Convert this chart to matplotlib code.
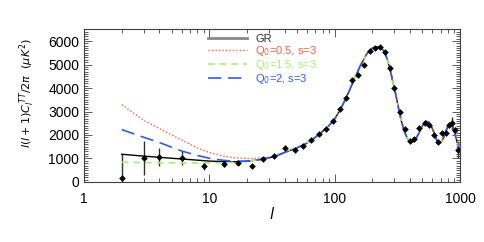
import matplotlib
matplotlib.use('Agg')
import matplotlib.pyplot as plt
from matplotlib.lines import Line2D
from matplotlib.ticker import MultipleLocator

plt.rcParams['font.family'] = ['Liberation Sans', 'DejaVu Sans']
plt.rcParams['mathtext.fontset'] = 'dejavusans'

# binned data points (l, value, symmetric error)
data_l = [2, 3, 4, 6, 9, 13, 17, 22, 27, 33, 40, 48, 56, 65, 75, 86, 97, 111, 123,
          138, 153, 170, 190, 208, 228, 250, 274, 300, 330, 362, 396, 426, 470, 524,
          565, 620, 670, 720, 770, 818, 870, 905, 960]
data_v = [180, 1020, 1075, 1020, 680, 750, 795, 680, 980, 1120, 1435, 1360, 1530, 1790,
          2040, 2260, 2600, 3100, 3560, 4340, 4550, 5000, 5570, 5690, 5730, 5520, 4840,
          3990, 2990, 2240, 1760, 1830, 2280, 2500, 2430, 2000, 1715, 2070, 2100, 2430,
          2500, 2210, 1360]
data_err = [1000, 720, 390, 300, 170, 110, 90, 80, 70, 60, 60, 50, 50, 50, 50, 50, 50,
            50, 50, 50, 50, 50, 50, 50, 50, 50, 50, 50, 50, 50, 50, 50, 60, 60, 60,
            70, 80, 90, 100, 120, 270, 150, 350]

# model curves
gr_l = [2, 3, 4, 5, 6, 8, 10, 13, 16, 20, 25, 30, 35, 40, 50, 60, 70, 80, 90, 100, 110,
        120, 130, 140, 150, 160, 170, 180, 190, 200, 215, 230, 245, 260, 275, 290, 305,
        320, 340, 360, 380, 400, 420, 440, 470, 500, 530, 560, 590, 620, 650, 680, 710,
        740, 770, 800, 830, 860, 890, 920, 960, 1000]
gr_v = [1180, 1100, 1050, 1010, 980, 930, 890, 865, 860, 880, 950, 1030, 1130, 1260,
        1450, 1650, 1900, 2150, 2400, 2680, 3050, 3450, 3850, 4250, 4600, 4950, 5200,
        5450, 5600, 5700, 5760, 5740, 5600, 5300, 4850, 4300, 3800, 3250, 2600, 2150,
        1850, 1700, 1710, 1800, 2080, 2380, 2580, 2560, 2380, 2100, 1800, 1660, 1700,
        1900, 2150, 2380, 2500, 2450, 2250, 1950, 1600, 1300]

low_l = [2, 3, 4, 5, 6, 8, 10, 13, 16, 20, 25, 30, 35, 40]
q05_v = [3290, 2620, 2270, 2000, 1790, 1450, 1250, 1100, 1030, 1000, 1010, 1060, 1150, 1280]
q15_v = [840, 830, 820, 815, 810, 810, 810, 820, 840, 880, 950, 1030, 1130, 1260]
q2_v = [2230, 1900, 1680, 1480, 1320, 1130, 1010, 920, 880, 890, 950, 1030, 1130, 1260]

hi_l = gr_l[14:]
hi_v = gr_v[14:]

red = '#ff5a3c'
green = '#a8ee70'
blue = '#2f5cf0'

fig = plt.figure(figsize=(4.85, 2.42), dpi=100)
ax = fig.add_axes([0.1732, 0.248, 0.7753, 0.631])

ax.errorbar(data_l, data_v, yerr=data_err, fmt='none', ecolor='#303030', elinewidth=1.0)
ax.plot(gr_l, gr_v, color='black', lw=1.0)
ax.plot(low_l + hi_l, q05_v + hi_v, color=red, lw=1.0, ls=(0, (1, 1.5)))
ax.plot(low_l + hi_l, q15_v + hi_v, color=green, lw=1.2, ls=(0, (4, 3)))
ax.plot(low_l + hi_l, q2_v + hi_v, color=blue, lw=1.2, ls=(0, (8, 4)))
ax.plot(data_l, data_v, 'D', color='black', ms=3.4, mew=0)

ax.set_xscale('log')
ax.set_xlim(1, 1000)
ax.set_ylim(0, 6500)
ax.yaxis.set_major_locator(MultipleLocator(1000))
ax.yaxis.set_minor_locator(MultipleLocator(100))
ax.tick_params(which='both', direction='in', top=True, right=True, labelsize=10,
               color='#404040', width=0.6)
ax.tick_params(which='major', length=6)
ax.tick_params(which='minor', length=3)
ax.tick_params(axis='x', pad=7)
ax.set_xticks([1, 10, 100, 1000])
ax.set_xticklabels(['1', '10', '100', '1000'])
for s in ax.spines.values():
    s.set_color('#404040')
    s.set_linewidth(0.8)

ax.set_xlabel(r'$l$', fontsize=11, labelpad=0)
ax.set_ylabel(r'$l(l+1)C_l^{\,TT}/2\pi\ \ (\mu K^2)$', fontsize=8)
ax.yaxis.set_label_coords(-0.125, 0.58)

handles = [Line2D([], [], color='#888888', lw=2),
           Line2D([], [], color=red, lw=1.0, ls=(0, (1, 1.5))),
           Line2D([], [], color=green, lw=1.2, ls=(0, (4, 3))),
           Line2D([], [], color=blue, lw=1.2, ls=(0, (8, 4)))]
labels = ['GR', r'Q$_0$=0.5, s=3', r'Q$_0$=1.5, s=3', r'Q$_0$=2, s=3']
leg = ax.legend(handles, labels, loc='upper left', bbox_to_anchor=(0.31, 1.02),
                frameon=False, fontsize=8, handlelength=3.5, handletextpad=0.7,
                labelspacing=0.0, borderaxespad=0.3)
for txt, c in zip(leg.get_texts(), ['#303030', red, green, blue]):
    txt.set_color(c)

fig.savefig('out.png', dpi=100)
